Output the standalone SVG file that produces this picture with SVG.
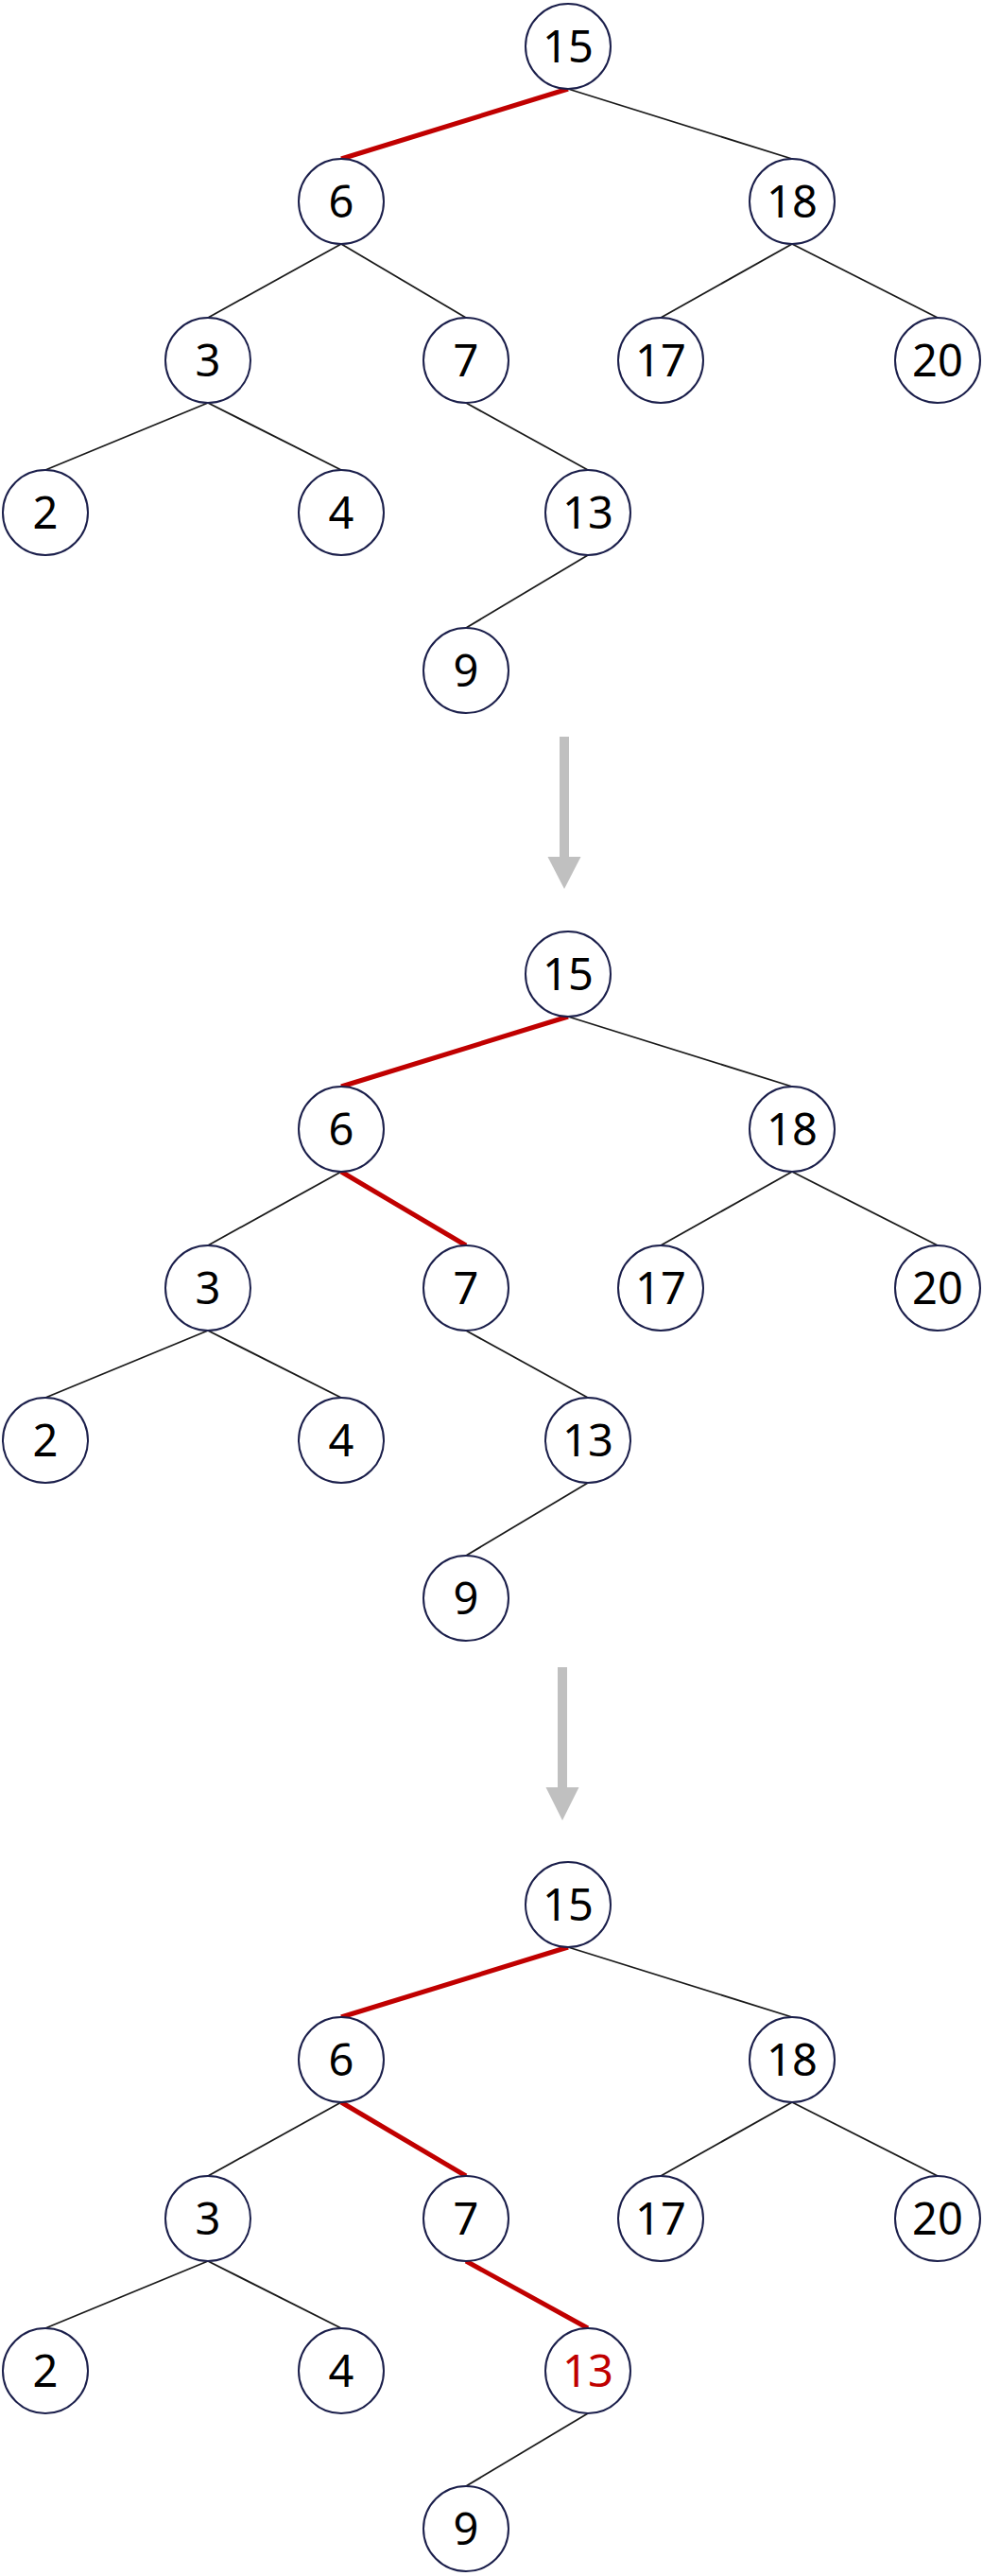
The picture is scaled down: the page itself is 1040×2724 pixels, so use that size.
<svg xmlns="http://www.w3.org/2000/svg" width="1040" height="2724" viewBox="0 0 1040 2724">
<style>
.e{stroke:#1a1a1a;stroke-width:1.8;fill:none}
.r{stroke:#C00000;stroke-width:5;fill:none}
.n circle{fill:#fff;stroke:#1B1F4B;stroke-width:2}
.n text{font-family:"Noto Sans","Liberation Sans",sans-serif;font-size:47px;text-anchor:middle;fill:#000}
.n text.hl{fill:#C00000}
.a{fill:#C0C0C0}
</style>
<rect width="1040" height="2724" fill="#fff"/>
<g id="connectors">
  <g id="edges-1">
    <line class="r" x1="601" y1="94" x2="361" y2="168"/>
    <line class="e" x1="601" y1="94" x2="838" y2="168"/>
    <line class="e" x1="361" y1="258" x2="220" y2="336"/>
    <line class="e" x1="361" y1="258" x2="493" y2="336"/>
    <line class="e" x1="838" y1="258" x2="699" y2="336"/>
    <line class="e" x1="838" y1="258" x2="992" y2="336"/>
    <line class="e" x1="220" y1="426" x2="48" y2="497"/>
    <line class="e" x1="220" y1="426" x2="361" y2="497"/>
    <line class="e" x1="493" y1="426" x2="622" y2="497"/>
    <line class="e" x1="622" y1="587" x2="493" y2="664"/>
  </g>
  <g id="edges-2" transform="translate(0,981)">
    <line class="r" x1="601" y1="94" x2="361" y2="168"/>
    <line class="e" x1="601" y1="94" x2="838" y2="168"/>
    <line class="e" x1="361" y1="258" x2="220" y2="336"/>
    <line class="r" x1="361" y1="258" x2="493" y2="336"/>
    <line class="e" x1="838" y1="258" x2="699" y2="336"/>
    <line class="e" x1="838" y1="258" x2="992" y2="336"/>
    <line class="e" x1="220" y1="426" x2="48" y2="497"/>
    <line class="e" x1="220" y1="426" x2="361" y2="497"/>
    <line class="e" x1="493" y1="426" x2="622" y2="497"/>
    <line class="e" x1="622" y1="587" x2="493" y2="664"/>
  </g>
  <g id="edges-3" transform="translate(0,1965)">
    <line class="r" x1="601" y1="94" x2="361" y2="168"/>
    <line class="e" x1="601" y1="94" x2="838" y2="168"/>
    <line class="e" x1="361" y1="258" x2="220" y2="336"/>
    <line class="r" x1="361" y1="258" x2="493" y2="336"/>
    <line class="e" x1="838" y1="258" x2="699" y2="336"/>
    <line class="e" x1="838" y1="258" x2="992" y2="336"/>
    <line class="e" x1="220" y1="426" x2="48" y2="497"/>
    <line class="e" x1="220" y1="426" x2="361" y2="497"/>
    <line class="r" x1="493" y1="426" x2="622" y2="497"/>
    <line class="e" x1="622" y1="587" x2="493" y2="664"/>
  </g>
  <g id="arrow-1">
    <rect class="a" x="592" y="779" width="10" height="128"/>
    <polygon class="a" points="579.5,906 614.5,906 597,940"/>
  </g>
  <g id="arrow-2">
    <rect class="a" x="590" y="1763" width="10" height="128"/>
    <polygon class="a" points="577.5,1890 612.5,1890 595,1925"/>
  </g>
</g>
<g id="tree-1">
  <g id="t1-n15" class="n"><circle cx="601" cy="49" r="45"/><text x="601" y="66">15</text></g>
  <g id="t1-n6" class="n"><circle cx="361" cy="213" r="45"/><text x="361" y="230">6</text></g>
  <g id="t1-n18" class="n"><circle cx="838" cy="213" r="45"/><text x="838" y="230">18</text></g>
  <g id="t1-n3" class="n"><circle cx="220" cy="381" r="45"/><text x="220" y="398">3</text></g>
  <g id="t1-n7" class="n"><circle cx="493" cy="381" r="45"/><text x="493" y="398">7</text></g>
  <g id="t1-n17" class="n"><circle cx="699" cy="381" r="45"/><text x="699" y="398">17</text></g>
  <g id="t1-n20" class="n"><circle cx="992" cy="381" r="45"/><text x="992" y="398">20</text></g>
  <g id="t1-n2" class="n"><circle cx="48" cy="542" r="45"/><text x="48" y="559">2</text></g>
  <g id="t1-n4" class="n"><circle cx="361" cy="542" r="45"/><text x="361" y="559">4</text></g>
  <g id="t1-n13" class="n"><circle cx="622" cy="542" r="45"/><text x="622" y="559">13</text></g>
  <g id="t1-n9" class="n"><circle cx="493" cy="709" r="45"/><text x="493" y="726">9</text></g>
</g>
<g id="tree-2" transform="translate(0,981)">
  <g id="t2-n15" class="n"><circle cx="601" cy="49" r="45"/><text x="601" y="66">15</text></g>
  <g id="t2-n6" class="n"><circle cx="361" cy="213" r="45"/><text x="361" y="230">6</text></g>
  <g id="t2-n18" class="n"><circle cx="838" cy="213" r="45"/><text x="838" y="230">18</text></g>
  <g id="t2-n3" class="n"><circle cx="220" cy="381" r="45"/><text x="220" y="398">3</text></g>
  <g id="t2-n7" class="n"><circle cx="493" cy="381" r="45"/><text x="493" y="398">7</text></g>
  <g id="t2-n17" class="n"><circle cx="699" cy="381" r="45"/><text x="699" y="398">17</text></g>
  <g id="t2-n20" class="n"><circle cx="992" cy="381" r="45"/><text x="992" y="398">20</text></g>
  <g id="t2-n2" class="n"><circle cx="48" cy="542" r="45"/><text x="48" y="559">2</text></g>
  <g id="t2-n4" class="n"><circle cx="361" cy="542" r="45"/><text x="361" y="559">4</text></g>
  <g id="t2-n13" class="n"><circle cx="622" cy="542" r="45"/><text x="622" y="559">13</text></g>
  <g id="t2-n9" class="n"><circle cx="493" cy="709" r="45"/><text x="493" y="726">9</text></g>
</g>
<g id="tree-3" transform="translate(0,1965)">
  <g id="t3-n15" class="n"><circle cx="601" cy="49" r="45"/><text x="601" y="66">15</text></g>
  <g id="t3-n6" class="n"><circle cx="361" cy="213" r="45"/><text x="361" y="230">6</text></g>
  <g id="t3-n18" class="n"><circle cx="838" cy="213" r="45"/><text x="838" y="230">18</text></g>
  <g id="t3-n3" class="n"><circle cx="220" cy="381" r="45"/><text x="220" y="398">3</text></g>
  <g id="t3-n7" class="n"><circle cx="493" cy="381" r="45"/><text x="493" y="398">7</text></g>
  <g id="t3-n17" class="n"><circle cx="699" cy="381" r="45"/><text x="699" y="398">17</text></g>
  <g id="t3-n20" class="n"><circle cx="992" cy="381" r="45"/><text x="992" y="398">20</text></g>
  <g id="t3-n2" class="n"><circle cx="48" cy="542" r="45"/><text x="48" y="559">2</text></g>
  <g id="t3-n4" class="n"><circle cx="361" cy="542" r="45"/><text x="361" y="559">4</text></g>
  <g id="t3-n13" class="n"><circle cx="622" cy="542" r="45"/><text class="hl" x="622" y="559">13</text></g>
  <g id="t3-n9" class="n"><circle cx="493" cy="709" r="45"/><text x="493" y="726">9</text></g>
</g>
</svg>
